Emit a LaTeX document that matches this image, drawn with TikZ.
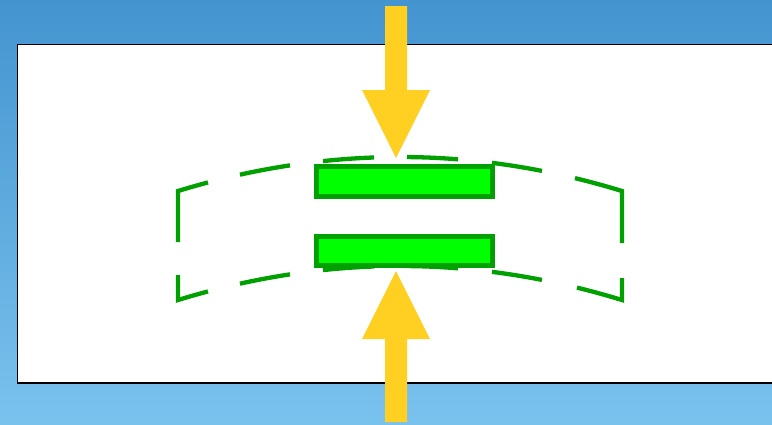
\documentclass[tikz,border=0pt]{standalone}
\definecolor{bgtop}{HTML}{4494D0}
\definecolor{bgbot}{HTML}{7AC2EE}
\definecolor{arrowyellow}{HTML}{FFD022}
\definecolor{beamgreen}{HTML}{00A000}
\definecolor{fillgreen}{HTML}{00FF00}
\tikzset{
  dashseg/.style={draw=beamgreen, line width=4.3pt, line cap=butt, line join=miter},
  beambox/.style={draw=beamgreen, fill=fillgreen, line width=5pt},
  bigarrow/.style={fill=arrowyellow, draw=none},
  panel/.style={fill=white, draw=black, line width=1.5pt}
}
\begin{document}
\begin{tikzpicture}[x=1pt, y=-1pt,
  declare function={ta(\x)=157+((\x-400)/38.07)^2; ba(\x)=266+((\x-400)/38.07)^2;}]
\useasboundingbox (0,0) rectangle (772,424);
\clip (0,0) rectangle (772,424);
% background
\shade[top color=bgtop, bottom color=bgbot] (0,0) rectangle (772,424);
% white panel
\draw[panel] (17.5,44.5) rectangle (790,383);
% dashed outline of the bent beam: top arc
\draw[dashseg] (178,242) -- (178,{ta(178)}) -- plot[domain=178:208, samples=6] (\x,{ta(\x)});
\foreach \a/\b in {240/290, 323/374, 407/458, 492/542}
  \draw[dashseg] plot[domain=\a:\b, samples=8] (\x,{ta(\x)});
\draw[dashseg] plot[domain=575:622, samples=6] (\x,{ta(\x)}) -- (622,243);
% bottom arc
\draw[dashseg] (178,275) -- (178,{ba(178)}) -- plot[domain=178:208, samples=6] (\x,{ba(\x)});
\foreach \a/\b in {240/290, 323/374, 407/458, 492/542}
  \draw[dashseg] plot[domain=\a:\b, samples=8] (\x,{ba(\x)});
\draw[dashseg] plot[domain=577:622, samples=6] (\x,{ba(\x)}) -- (622,278);
% green blocks
\draw[beambox] (316.5,166.5) rectangle (492.5,196.5);
\draw[beambox] (316.5,236.5) rectangle (492.5,265.5);
% yellow arrows
\fill[bigarrow] (385,6) -- (407,6) -- (407,90) -- (430,90) -- (396,158) -- (362,90) -- (385,90) -- cycle;
\fill[bigarrow] (385,422) -- (407,422) -- (407,339) -- (430,339) -- (396,271) -- (362,339) -- (385,339) -- cycle;
\end{tikzpicture}
\end{document}
